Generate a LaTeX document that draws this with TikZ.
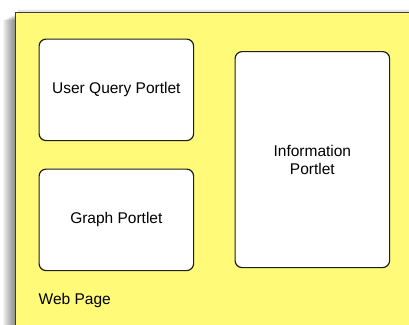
\documentclass[tikz,border=0pt]{standalone}
\usepackage{fontspec}
\setmainfont{Liberation Sans}
\begin{document}
\begin{tikzpicture}[x=1pt,y=-1pt,
  pagefill/.style={fill={rgb,255:red,255;green,250;blue,120}},
  portlet/.style={draw={rgb,255:red,30;green,30;blue,30}, line width=1.2pt,
    fill=white, rounded corners=7pt, anchor=north west, inner sep=0pt,
    align=center, font=\fontsize{15.5}{18}\selectfont},
  caption/.style={anchor=west, inner sep=0pt, font=\fontsize{15.5}{18}\selectfont}]
\useasboundingbox (0,0) rectangle (409,324);
\begin{scope}
\clip (0,0) rectangle (409,324);
% soft shadow along the left edge of the page
\foreach \i in {1,...,12}{
  \fill[black, opacity=0.045] (15-\i,14+0.5*\i) rectangle (430,340);
}
% faint shadow above the top edge
\foreach \i in {1,...,4}{
  \fill[black, opacity=0.03] (18,12-0.8*\i) rectangle (430,340);
}
% the page itself
\node[pagefill, draw={rgb,255:red,60;green,60;blue,60}, line width=0.8pt,
  anchor=north west, minimum width=420pt, minimum height=330pt, inner sep=0pt]
  (page) at (15,12) {};
\end{scope}
\node[portlet, minimum width=154.5pt, minimum height=101.5pt] (uq) at (38.5,38.5) {User Query Portlet};
\node[portlet, minimum width=154.5pt, minimum height=101.5pt] (gp) at (38.5,168.5) {Graph Portlet};
\node[portlet, minimum width=154.5pt, minimum height=216pt] (info) at (234.5,51) {Information\\Portlet};
\node[caption] (label) at (38.5,300.5) {Web Page};
\end{tikzpicture}
\end{document}
